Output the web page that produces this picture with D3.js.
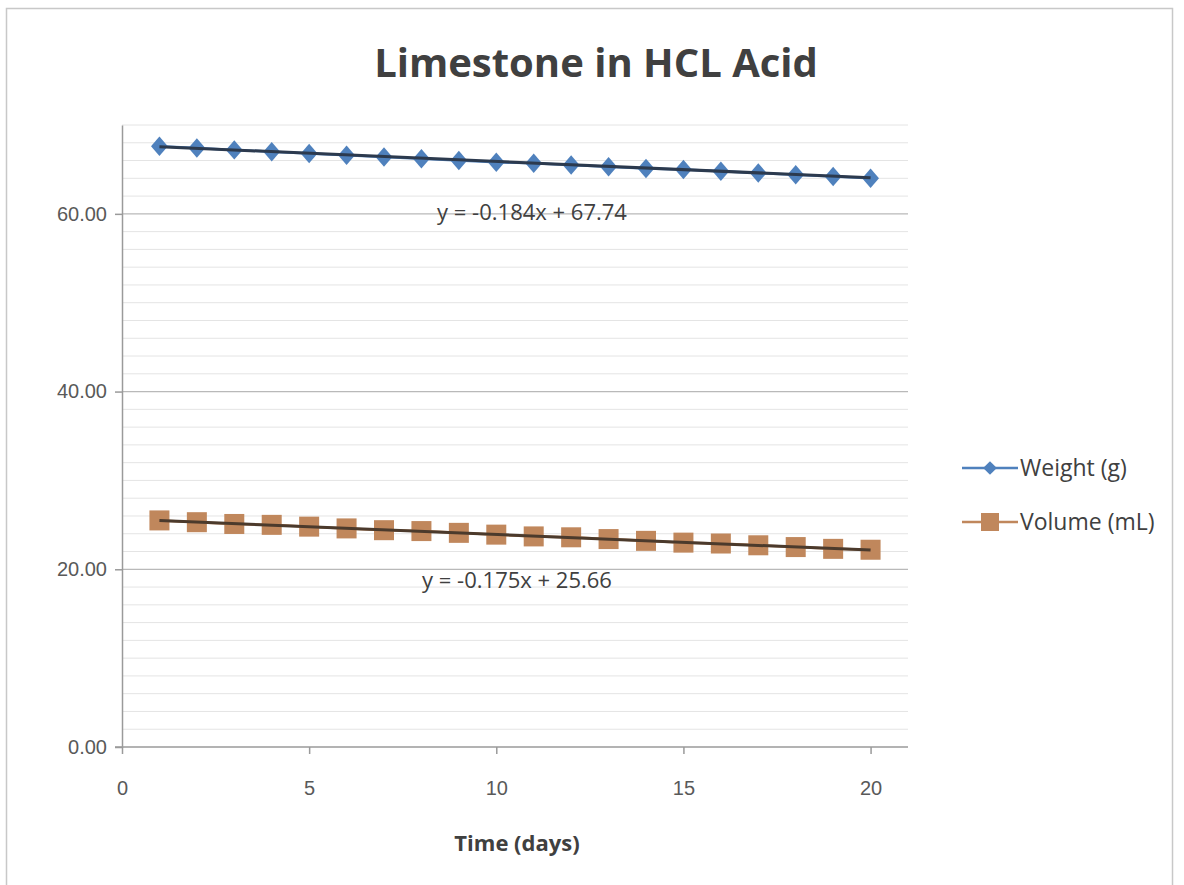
<!DOCTYPE html>
<html>
<head>
<meta charset="utf-8">
<script src="https://cdn.jsdelivr.net/npm/d3@7"></script>
<style>
  body { margin: 0; background: #fff; }
  svg { display: block; font-family: "Open Sans", "Liberation Sans", sans-serif; }
</style>
</head>
<body>
<div id="chart"></div>
<script>
const days = d3.range(1, 21);
const weight = [67.6, 67.4, 67.2, 67.0, 66.8, 66.6, 66.4, 66.2, 66.0, 65.8,
  65.7, 65.5, 65.3, 65.1, 65.0, 64.8, 64.6, 64.4, 64.2, 64.0];
const volume = [25.5, 25.3, 25.1, 25.0, 24.8, 24.6, 24.4, 24.3, 24.1, 23.9,
  23.7, 23.6, 23.4, 23.2, 23.0, 22.9, 22.7, 22.5, 22.3, 22.2];
const seriesNames = ["Weight (g)", "Volume (mL)"];
const trendSlopes = [-0.184, -0.175];
const trendIntercepts = [67.74, 25.66];
const yTicks = [0, 20, 40, 60];
const xTicks = [0, 5, 10, 15, 20];

const width = 1184;
const height = 885;
const margin = { top: 125, right: 276, bottom: 138, left: 122 };

const svg = d3.select("#chart").append("svg")
  .attr("width", width)
  .attr("height", height);

// chart frame
svg.append("rect")
  .attr("x", 6.5).attr("y", 8.5)
  .attr("width", 1166).attr("height", 890)
  .attr("fill", "#fff")
  .attr("stroke", "#c8c8c8")
  .attr("stroke-width", 1.5);

const x = d3.scaleLinear().domain([0, 21]).range([margin.left, width - margin.right]);
const y = d3.scaleLinear().domain([0, 70]).range([height - margin.bottom, margin.top]);

// minor gridlines
svg.append("g")
  .selectAll("line")
  .data(d3.range(2, 71, 2).filter((v) => v % 20 !== 0))
  .join("line")
  .attr("x1", x(0)).attr("x2", x(21))
  .attr("y1", (d) => y(d)).attr("y2", (d) => y(d))
  .attr("stroke", "#e4e4e4")
  .attr("stroke-width", 1);

// major gridlines
svg.append("g")
  .selectAll("line")
  .data(yTicks.filter((v) => v > 0))
  .join("line")
  .attr("x1", x(0)).attr("x2", x(21))
  .attr("y1", (d) => y(d)).attr("y2", (d) => y(d))
  .attr("stroke", "#b9b9b9")
  .attr("stroke-width", 1.2);

// y axis
const yAxis = svg.append("g")
  .attr("transform", `translate(${x(0)},0)`)
  .call(d3.axisLeft(y).tickValues(yTicks).tickSize(7).tickSizeOuter(0).tickPadding(8)
    .tickFormat(d3.format(".2f")));
yAxis.select(".domain").attr("stroke", "#9a9a9a").attr("stroke-width", 1.5);
yAxis.selectAll(".tick line").attr("stroke", "#9a9a9a").attr("stroke-width", 1.5);
yAxis.selectAll(".tick text")
  .attr("fill", "#595959")
  .style("font-size", "20px");

// x axis
const xAxis = svg.append("g")
  .attr("transform", `translate(0,${y(0)})`)
  .call(d3.axisBottom(x).tickValues(xTicks).tickSize(7).tickPadding(27));
xAxis.select(".domain").attr("stroke", "#9a9a9a").attr("stroke-width", 1.5)
  .attr("d", `M${x(0) - 7},0H${x(21)}`);
xAxis.selectAll(".tick line").attr("stroke", "#9a9a9a").attr("stroke-width", 1.5);
xAxis.selectAll(".tick text")
  .attr("fill", "#595959")
  .style("font-size", "20px");

// axis title
svg.append("text")
  .attr("x", 517).attr("y", 851)
  .attr("text-anchor", "middle")
  .attr("fill", "#404040")
  .style("font-size", "22px")
  .style("font-weight", "bold")
  .text("Time (days)");

// title
svg.append("text")
  .attr("x", 596).attr("y", 77)
  .attr("text-anchor", "middle")
  .attr("fill", "#404040")
  .style("font-size", "40px")
  .style("font-weight", "bold")
  .text("Limestone in HCL Acid");

const colors = ["#4f81bd", "#c0875c"];
const trendColors = ["#2c3a4e", "#4b3a2c"];
const data = [weight, volume];

const line = d3.line()
  .x((d, i) => x(days[i]))
  .y((d) => y(d));

const diamond = d3.symbol().type(d3.symbolDiamond2).size(200);

data.forEach((vals, s) => {
  svg.append("path")
    .attr("d", line(vals))
    .attr("fill", "none")
    .attr("stroke", colors[s])
    .attr("stroke-width", 2.5);

  const g = svg.append("g");
  if (s === 0) {
    g.selectAll("path")
      .data(vals)
      .join("path")
      .attr("transform", (d, i) => `translate(${x(days[i])},${y(d)}) scale(0.95,1.1)`)
      .attr("d", diamond)
      .attr("fill", colors[s]);
  } else {
    g.selectAll("rect")
      .data(vals)
      .join("rect")
      .attr("x", (d, i) => x(days[i]) - 10)
      .attr("y", (d) => y(d) - 10)
      .attr("width", 20).attr("height", 20)
      .attr("fill", colors[s]);
  }

  // trendline
  const x0 = days[0];
  const x1 = days[days.length - 1];
  svg.append("line")
    .attr("x1", x(x0)).attr("y1", y(trendSlopes[s] * x0 + trendIntercepts[s]))
    .attr("x2", x(x1)).attr("y2", y(trendSlopes[s] * x1 + trendIntercepts[s]))
    .attr("stroke", trendColors[s])
    .attr("stroke-width", 3);
});

// trendline equations
const eqPos = [[532, 220], [517, 588]];
trendSlopes.forEach((m, s) => {
  svg.append("text")
    .attr("x", eqPos[s][0]).attr("y", eqPos[s][1])
    .attr("text-anchor", "middle")
    .attr("fill", "#404040")
    .style("font-size", "22px")
    .text(`y = ${m.toFixed(3)}x + ${trendIntercepts[s].toFixed(2)}`);
});

// legend
const legend = svg.append("g");
seriesNames.forEach((name, s) => {
  const ly = 468 + s * 54;
  legend.append("line")
    .attr("x1", 962).attr("x2", 1018)
    .attr("y1", ly).attr("y2", ly)
    .attr("stroke", colors[s])
    .attr("stroke-width", 2.5);
  if (s === 0) {
    legend.append("path")
      .attr("transform", `translate(990,${ly})`)
      .attr("d", d3.symbol().type(d3.symbolDiamond2).size(120))
      .attr("fill", colors[s]);
  } else {
    legend.append("rect")
      .attr("x", 981).attr("y", ly - 9)
      .attr("width", 18).attr("height", 18)
      .attr("fill", colors[s]);
  }
  legend.append("text")
    .attr("x", 1020).attr("y", ly + 8)
    .attr("fill", "#404040")
    .style("font-size", "23px")
    .text(name);
});
</script>
</body>
</html>
